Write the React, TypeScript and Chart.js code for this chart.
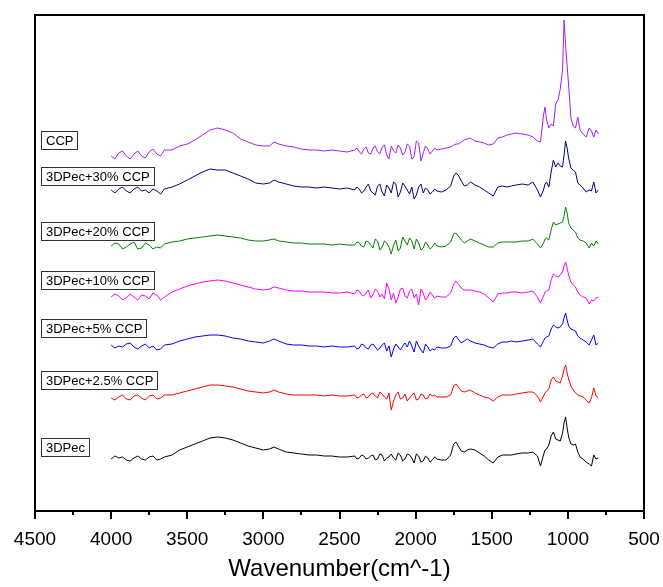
import React, { useEffect, useRef } from "react";
import { Chart, registerables } from "chart.js";

Chart.register(...registerables);

// Wavenumber grid (cm^-1)
const wavenumbers = [
  4000, 3975, 3950, 3925, 3900, 3875, 3850, 3825, 3800, 3775, 3750, 3725, 3700, 3675, 3650,
  3600, 3550, 3500, 3450, 3400, 3350, 3300, 3250, 3200, 3150, 3100, 3050, 3000, 2960, 2930, 2900,
  2850, 2800, 2750, 2700, 2650, 2600, 2550, 2500, 2450,
  2400, 2385, 2370, 2355, 2340, 2325, 2310, 2295, 2280, 2265, 2250, 2235, 2220, 2205, 2190, 2175,
  2160, 2145, 2130, 2115, 2100, 2085, 2070, 2055, 2040, 2025, 2010, 1995, 1980, 1965, 1950, 1935,
  1920, 1905, 1890, 1875, 1860,
  1830, 1800, 1770, 1750, 1735, 1720, 1700, 1680, 1660, 1640,
  1610, 1580, 1550, 1520, 1490, 1460, 1430, 1400, 1370, 1340,
  1300, 1260, 1230, 1200, 1180, 1160, 1150, 1140, 1125, 1110,
  1095, 1080, 1065, 1050, 1035, 1025, 1015, 1005, 995, 980,
  965, 950, 935, 920, 900, 880, 860, 845, 830, 815,
  800,
];

// Stacked (offset) absorbance, arbitrary units
const ccp = [
  355, 352, 358, 360, 355, 352, 357, 360, 355, 353, 359, 362, 357, 355, 361,
  361, 365, 367, 371, 376, 381, 383, 381, 378, 372, 369, 366, 365, 365, 369, 367,
  365, 364, 362, 361, 361, 360, 361, 360, 359,
  361, 363, 359, 357, 362, 364, 358, 357, 363, 365, 359, 357, 364, 366, 356, 352,
  365, 360, 358, 366, 363, 356, 359, 367, 365, 352, 354, 370, 368, 350, 358, 365,
  362, 357, 360, 363, 361,
  362, 363, 364, 366, 367, 367, 369, 371, 372, 373,
  370, 369, 368, 366, 367, 373, 374, 376, 377, 378,
  377, 376, 374, 370, 369, 396, 404, 391, 383, 387,
  385, 407, 411, 422, 441, 491, 466, 445, 426, 393,
  385, 383, 394, 381, 377, 374, 383, 380, 374, 381,
  377,
];
const pec30 = [
  321, 318, 322, 324, 320, 318, 322, 324, 320, 321, 318, 322, 320, 317, 322,
  324, 327, 331, 335, 339, 342, 341, 341, 338, 335, 332, 328, 327, 328, 331, 329,
  327, 325, 324, 324, 323, 324, 323, 322, 323,
  321, 324, 322, 318, 320, 324, 327, 320, 318, 316, 325, 327, 319, 315, 326, 323,
  318, 329, 327, 314, 319, 328, 325, 321, 317, 324, 312, 316, 324, 327, 318, 323,
  321, 317, 319, 322, 320,
  319, 321, 325, 335, 338, 336, 330, 325, 326, 329,
  326, 324, 321, 318, 315, 324, 325, 324, 325, 326,
  327, 326, 329, 321, 314, 321, 327, 329, 324, 339,
  351, 344, 348, 345, 344, 356, 370, 363, 353, 343,
  341, 339, 328, 326, 323, 319, 321, 320, 329, 318,
  321,
];
const pec20 = [
  265, 268, 267, 262, 264, 267, 269, 262, 263, 268, 266, 262, 264, 263, 267,
  269, 270, 272, 273, 274, 275, 276, 275, 274, 273, 271, 270, 270, 271, 272, 270,
  269, 268, 268, 267, 267, 267, 266, 267, 266,
  266, 269, 268, 265, 264, 270, 269, 266, 263, 272, 270, 261, 264, 270, 268, 264,
  257, 266, 271, 260, 263, 274, 270, 266, 273, 270, 262, 272, 268, 261, 263, 269,
  266, 262, 264, 268, 265,
  264, 265, 269, 277, 278, 275, 271, 268, 270, 272,
  270, 268, 266, 264, 264, 268, 269, 269, 269, 269,
  270, 270, 272, 267, 263, 268, 272, 273, 271, 281,
  289, 286, 287, 288, 289, 295, 304, 298, 288, 283,
  281, 279, 273, 271, 270, 268, 263, 268, 265, 270,
  267,
];
const pec10 = [
  214, 217, 215, 211, 213, 217, 214, 211, 216, 215, 212, 218, 216, 211, 214,
  219, 222, 225, 227, 229, 230, 231, 230, 228, 226, 224, 222, 221, 222, 224, 223,
  221, 220, 220, 219, 219, 219, 218, 218, 219,
  217, 221, 220, 216, 215, 218, 221, 213, 216, 222, 220, 214, 217, 212, 228, 222,
  211, 218, 208, 214, 222, 223, 215, 213, 220, 222, 213, 217, 206, 222, 218, 211,
  214, 219, 216, 213, 215,
  214, 214, 218, 227, 230, 227, 223, 221, 221, 221,
  220, 219, 217, 213, 209, 217, 218, 218, 219, 219,
  218, 219, 220, 214, 208, 215, 219, 220, 221, 231,
  237, 235, 234, 236, 239, 245, 249, 243, 236, 229,
  226, 224, 219, 216, 214, 213, 207, 211, 210, 213,
  214,
];
const pec5 = [
  166, 163, 165, 164, 167, 168, 164, 162, 165, 167, 163, 165, 161, 162, 166,
  167, 170, 172, 174, 175, 176, 176, 175, 173, 172, 170, 169, 168, 170, 172, 170,
  167, 166, 166, 165, 165, 164, 165, 164, 164,
  165, 162, 163, 167, 166, 163, 162, 166, 167, 164, 161, 163, 166, 168, 160, 165,
  154, 162, 167, 164, 161, 165, 168, 164, 170, 165, 159, 170, 165, 161, 158, 167,
  164, 160, 162, 161, 164,
  163, 163, 165, 173, 175, 172, 168, 170, 172, 170,
  168, 167, 166, 164, 163, 167, 169, 169, 170, 169,
  170, 171, 172, 167, 164, 170, 173, 174, 175, 182,
  186, 184, 183, 184, 187, 193, 198, 191, 185, 182,
  181, 180, 175, 173, 171, 169, 166, 171, 176, 166,
  168,
];
const pec25 = [
  113, 111, 114, 116, 112, 111, 115, 116, 113, 111, 115, 116, 112, 113, 116,
  116, 118, 120, 122, 124, 126, 126, 125, 124, 122, 120, 119, 118, 119, 121, 119,
  117, 116, 116, 116, 116, 115, 116, 115, 115,
  116, 113, 114, 116, 117, 113, 114, 117, 118, 115, 113, 119, 117, 114, 112, 118,
  101, 110, 116, 119, 112, 113, 117, 110, 113, 116, 118, 111, 112, 117, 116, 112,
  113, 117, 115, 116, 114,
  114, 114, 116, 125, 127, 124, 120, 119, 120, 121,
  118, 116, 114, 113, 110, 114, 116, 116, 116, 117,
  118, 119, 119, 115, 109, 115, 118, 120, 122, 131,
  134, 130, 129, 128, 135, 142, 146, 138, 132, 125,
  121, 118, 116, 115, 114, 111, 108, 113, 123, 115,
  113,
];
const pec = [
  52, 55, 53, 54, 51, 50, 53, 55, 52, 51, 54, 55, 51, 52, 54,
  56, 61, 64, 67, 70, 73, 74, 73, 71, 68, 65, 63, 61, 62, 64, 62,
  59, 58, 57, 56, 56, 55, 55, 54, 54,
  55, 52, 53, 56, 55, 52, 53, 55, 56, 51, 52, 57, 56, 50, 53, 54,
  57, 53, 51, 58, 56, 50, 52, 57, 56, 53, 48, 57, 55, 49, 50, 55,
  53, 49, 51, 54, 52,
  51, 51, 56, 67, 69, 65, 60, 59, 61, 62,
  61, 58, 55, 51, 48, 54, 56, 56, 56, 57,
  58, 58, 59, 55, 45, 56, 61, 62, 66, 75,
  79, 72, 71, 70, 78, 88, 94, 83, 74, 67,
  66, 67, 59, 54, 52, 49, 47, 45, 56, 52,
  53,
];

const seriesNames = [
  "CCP",
  "3DPec+30% CCP",
  "3DPec+20% CCP",
  "3DPec+10% CCP",
  "3DPec+5% CCP",
  "3DPec+2.5% CCP",
  "3DPec",
];
const seriesValues = [ccp, pec30, pec20, pec10, pec5, pec25, pec];
const xTickValues = [4500, 4000, 3500, 3000, 2500, 2000, 1500, 1000, 500];

// Styling / layout (not data)
const seriesColors = ["#A020F0", "#000080", "#008000", "#FF00FF", "#0000FF", "#FF0000", "#000000"];
const labelCenters = [371, 335.5, 280.5, 231.5, 183, 131, 64.5];
const FONT = 'Arial, "Liberation Sans", sans-serif';

const framePlugin = {
  id: "frameAndLabels",
  afterDatasetsDraw(chart: any) {
    const { ctx, chartArea } = chart;
    const xs = chart.scales.x;
    const ys = chart.scales.y;
    ctx.save();
    ctx.strokeStyle = "#000";
    ctx.lineWidth = 2;
    ctx.strokeRect(chartArea.left, chartArea.top, chartArea.right - chartArea.left, chartArea.bottom - chartArea.top);
    for (let v = 500; v <= 4500; v += 250) {
      const px = Math.round(xs.getPixelForValue(v));
      const len = v % 500 === 0 ? 8 : 4;
      ctx.beginPath();
      ctx.moveTo(px, chartArea.bottom);
      ctx.lineTo(px, chartArea.bottom + len);
      ctx.stroke();
    }
    ctx.font = `13px ${FONT}`;
    ctx.textBaseline = "middle";
    ctx.textAlign = "left";
    seriesNames.forEach((name, i) => {
      const cy = Math.round(ys.getPixelForValue(labelCenters[i]));
      const w = ctx.measureText(name).width;
      const left = Math.round(chartArea.left + 6);
      const bw = Math.round(w + 9);
      const bh = 18;
      const top = cy - 9;
      ctx.fillStyle = "#fff";
      ctx.fillRect(left, top, bw, bh);
      ctx.strokeStyle = "#333";
      ctx.lineWidth = 1;
      ctx.strokeRect(left + 0.5, top + 0.5, bw, bh);
      ctx.fillStyle = "#000";
      ctx.fillText(name, left + 5, cy + 1);
    });
    ctx.restore();
  },
};

export default function App() {
  const ref = useRef<HTMLCanvasElement | null>(null);
  useEffect(() => {
    if (!ref.current) return;
    const chart = new Chart(ref.current, {
      type: "line",
      data: {
        datasets: seriesValues.map((vals, i) => ({
          label: seriesNames[i],
          data: wavenumbers.map((w, j) => ({ x: w, y: vals[j] })),
          borderColor: seriesColors[i],
          borderWidth: 1,
          pointRadius: 0,
          tension: 0,
          fill: false,
        })),
      },
      options: {
        animation: false,
        responsive: false,
        maintainAspectRatio: false,
        layout: { padding: { left: 35, right: 19, top: 15, bottom: 0 } },
        plugins: { legend: { display: false }, tooltip: { enabled: false } },
        scales: {
          x: {
            type: "linear",
            reverse: true,
            min: 500,
            max: 4500,
            grid: { display: false, drawTicks: false },
            border: { display: false },
            afterBuildTicks: (scale: any) => {
              scale.ticks = xTickValues.map((v) => ({ value: v }));
            },
            afterFit: (scale: any) => {
              scale.height = 76;
              scale.paddingLeft = 0;
              scale.paddingRight = 0;
            },
            ticks: {
              autoSkip: false,
              maxRotation: 0,
              padding: 17,
              color: "#000",
              font: { family: FONT, size: 19 },
              callback: (v: any) => String(v),
            },
            title: {
              display: true,
              text: "Wavenumber(cm^-1)",
              color: "#000",
              font: { family: FONT, size: 24 },
              padding: { top: 0, bottom: 3 },
            },
          },
          y: { type: "linear", min: 0, max: 496, display: false },
        },
      },
      plugins: [framePlugin],
    });
    return () => chart.destroy();
  }, []);
  return (
    <div style={{ position: "absolute", left: 0, top: 0, width: 663, height: 587, background: "#fff" }}>
      <canvas ref={ref} width={663} height={587} style={{ display: "block" }} />
    </div>
  );
}
